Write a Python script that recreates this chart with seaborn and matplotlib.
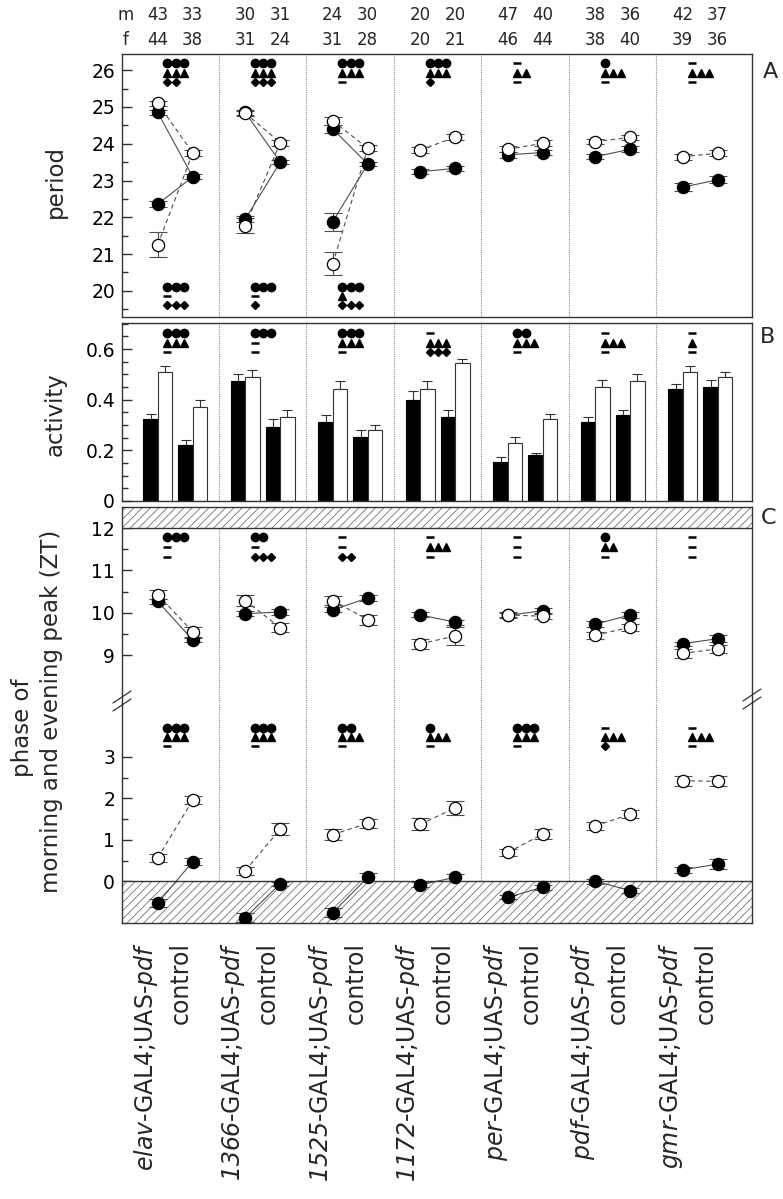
import numpy as np
import pandas as pd
import matplotlib
matplotlib.use("Agg")
import matplotlib.pyplot as plt
import matplotlib.transforms as mtransforms
from matplotlib.lines import Line2D
from matplotlib.ticker import MultipleLocator, FixedLocator, FuncFormatter
import seaborn as sns

sns.set_theme(style="ticks")
plt.rcParams.update({
    "font.family": ["DejaVu Sans"],
    "mathtext.fontset": "dejavusans",
    "hatch.color": "0.45",
    "hatch.linewidth": 0.6,
    "axes.edgecolor": "0.2",
    "axes.linewidth": 1.0,
    "ytick.color": "0.2",
    "ytick.labelcolor": "black",
})

# ---- data ----
# italic parts are plain text (italic font), the roman middle part is \text{}
driver_names = ["elav", "1366", "1525", "1172", "per", "pdf", "gmr"]
trans_labels = [name + r"$\text{-GAL4;UAS-}$" + "pdf" for name in driver_names]
ctrl_label = "control"

n_m = [43, 33, 30, 31, 24, 30, 20, 20, 47, 40, 38, 36, 42, 37]
n_f = [44, 38, 31, 24, 31, 28, 20, 21, 46, 44, 38, 40, 39, 36]

# period (A); black = m, white = f
per_m_trans = [24.85, 24.85, 24.40, 23.24, 23.70, 23.65, 22.82]
per_m_trans_err = [0.07, 0.06, 0.10, 0.06, 0.08, 0.07, 0.10]
per_f_trans = [25.10, 24.83, 24.62, 23.83, 23.85, 24.06, 23.65]
per_f_trans_err = [0.07, 0.07, 0.10, 0.07, 0.08, 0.07, 0.08]
per_m_short = [22.36, 21.95, 21.88]
per_m_short_err = [0.08, 0.08, 0.24]
per_f_short = [21.25, 21.77, 20.74]
per_f_short_err = [0.34, 0.20, 0.31]
per_m_ctrl = [23.10, 23.50, 23.45, 23.33, 23.76, 23.85, 23.02]
per_m_ctrl_err = [0.07, 0.06, 0.05, 0.07, 0.07, 0.08, 0.10]
per_f_ctrl = [23.75, 24.03, 23.88, 24.18, 24.01, 24.17, 23.74]
per_f_ctrl_err = [0.08, 0.08, 0.08, 0.08, 0.08, 0.08, 0.08]

# activity (B)
act_m_trans = [0.322, 0.472, 0.311, 0.400, 0.154, 0.312, 0.443]
act_m_trans_err = [0.020, 0.029, 0.030, 0.033, 0.020, 0.018, 0.018]
act_f_trans = [0.511, 0.491, 0.442, 0.442, 0.230, 0.452, 0.510]
act_f_trans_err = [0.022, 0.026, 0.030, 0.030, 0.021, 0.027, 0.023]
act_m_ctrl = [0.222, 0.293, 0.251, 0.332, 0.183, 0.341, 0.452]
act_m_ctrl_err = [0.018, 0.029, 0.031, 0.029, 0.008, 0.020, 0.027]
act_f_ctrl = [0.371, 0.331, 0.282, 0.544, 0.322, 0.472, 0.491]
act_f_ctrl_err = [0.029, 0.030, 0.020, 0.018, 0.020, 0.029, 0.020]

# evening peak phase (C, upper)
eve_m_trans = [10.27, 9.98, 10.07, 9.95, 9.94, 9.73, 9.27]
eve_m_trans_err = [0.05, 0.06, 0.06, 0.06, 0.06, 0.07, 0.05]
eve_f_trans = [10.43, 10.29, 10.29, 9.27, 9.95, 9.47, 9.04]
eve_f_trans_err = [0.10, 0.12, 0.10, 0.12, 0.06, 0.08, 0.10]
eve_m_ctrl = [9.36, 10.02, 10.35, 9.78, 10.05, 9.95, 9.39]
eve_m_ctrl_err = [0.05, 0.06, 0.07, 0.06, 0.06, 0.07, 0.08]
eve_f_ctrl = [9.55, 9.65, 9.84, 9.45, 9.92, 9.66, 9.15]
eve_f_ctrl_err = [0.12, 0.11, 0.12, 0.22, 0.06, 0.08, 0.10]

# morning peak phase (C, lower)
mor_m_trans = [-0.52, -0.87, -0.75, -0.08, -0.38, 0.01, 0.28]
mor_m_trans_err = [0.10, 0.10, 0.10, 0.06, 0.05, 0.06, 0.08]
mor_f_trans = [0.57, 0.26, 1.13, 1.38, 0.70, 1.34, 2.43]
mor_f_trans_err = [0.10, 0.10, 0.14, 0.15, 0.08, 0.10, 0.12]
mor_m_ctrl = [0.48, -0.06, 0.10, 0.10, -0.14, -0.22, 0.42]
mor_m_ctrl_err = [0.09, 0.05, 0.10, 0.08, 0.06, 0.06, 0.12]
mor_f_ctrl = [1.96, 1.26, 1.40, 1.77, 1.14, 1.62, 2.41]
mor_f_ctrl_err = [0.10, 0.15, 0.10, 0.17, 0.12, 0.10, 0.12]

# significance symbols: o circle, ^ triangle, D diamond, - not significant
sig_A_top = [["ooo", "^^^", "DD"], ["ooo", "^^^", "DDD"], ["ooo", "^^^", "-"],
             ["ooo", "^^^", "D"], ["-", "^^", "-"], ["o", "^^^", "-"], ["-", "^^^", "-"]]
sig_A_bottom = [["ooo", "-", "DDD"], ["ooo", "-", "D"], ["ooo", "^", "DDD"]]
sig_B = [["ooo", "^^^", "-"], ["ooo", "-", "-"], ["ooo", "^^^", "-"], ["-", "^^^", "DDD"],
         ["oo", "^^^", "-"], ["-", "^^^", "-"], ["-", "^", "-"]]
sig_C_eve = [["ooo", "-", "-"], ["oo", "-", "DDD"], ["-", "-", "DD"], ["-", "^^^", "-"],
             ["-", "-", "-"], ["o", "^^", "-"], ["-", "-", "-"]]
sig_C_mor = [["ooo", "^^^", "-"], ["ooo", "^^^", "-"], ["oo", "^^^", "-"], ["o", "^^^", "-"],
             ["ooo", "^^^", "-"], ["-", "^^^", "D"], ["-", "^^^", "-"]]

# ---- layout ----
W, H = 783, 1199
x_trans = np.arange(7) * 2 + 0.6
x_ctrl = np.arange(7) * 2 + 1.4
XLIM = (-0.217, 14.183)

fig = plt.figure(figsize=(W / 100, H / 100), dpi=100)


def box(left, top, right, bottom):
    return [left / W, 1 - bottom / H, (right - left) / W, (bottom - top) / H]


axA = fig.add_axes(box(122, 54, 752, 317))
axB = fig.add_axes(box(122, 323, 752, 501))
axE = fig.add_axes(box(122, 507, 752, 703))
axM = fig.add_axes(box(122, 703, 752, 923))

for ax in (axA, axB, axE, axM):
    ax.set_xlim(*XLIM)
    for s in range(1, 7):
        ax.axvline(2 * s, color="0.55", lw=0.8, ls=(0, (1, 1)), zorder=0.5)
    ax.tick_params(axis="x", bottom=False, labelbottom=False)
    ax.tick_params(axis="y", which="both", direction="in", right=False,
                   labelsize=13.5, pad=5, width=1.0)
    ax.tick_params(axis="y", which="major", length=7)
    ax.tick_params(axis="y", which="minor", length=4.5)


def connect(ax, segs):
    rows = []
    for sid, sex, g, y0, y1 in segs:
        rows.append(dict(series=sid, sex=sex, x=x_trans[g], y=y0))
        rows.append(dict(series=sid, sex=sex, x=x_ctrl[g], y=y1))
    df = pd.DataFrame(rows)
    sns.lineplot(data=df, x="x", y="y", units="series", estimator=None, sort=False,
                 style="sex", style_order=["m", "f"], dashes={"m": "", "f": (4, 3)},
                 color="0.3", linewidth=0.8, legend=False, ax=ax, zorder=1)
    ax.set(xlabel="", ylabel="")


def points(ax, x, y, err, face, z):
    ax.errorbar(x, y, yerr=err, fmt="none", ecolor="0.3", elinewidth=0.8,
                capsize=6.8, capthick=0.8, zorder=2)
    ax.plot(x, y, ls="none", marker="o", ms=8.8, mfc=face, mec="black", mew=0.9, zorder=z)


sym_style = {"o": dict(marker="o", ms=6.0),
             "^": dict(marker="^", ms=6.2),
             "D": dict(marker="D", ms=4.4),
             "-": dict(marker="_", ms=5.5, mew=1.8)}


def draw_sig(ax, groups_rows, row_y):
    tr = ax.get_xaxis_transform()
    for g, rows in enumerate(groups_rows):
        for r, code in enumerate(rows):
            for c, ch in enumerate(code):
                ax.plot([2 * g + 0.82 + 0.19 * c], [row_y[r]], ls="none", color="black",
                        transform=tr, clip_on=False, zorder=5, **sym_style[ch])


# ---- A: period ----
segs = []
for g in range(7):
    segs.append((f"m{g}", "m", g, per_m_trans[g], per_m_ctrl[g]))
    segs.append((f"f{g}", "f", g, per_f_trans[g], per_f_ctrl[g]))
for g in range(3):
    segs.append((f"ms{g}", "m", g, per_m_short[g], per_m_ctrl[g]))
    segs.append((f"fs{g}", "f", g, per_f_short[g], per_f_ctrl[g]))
connect(axA, segs)
points(axA, np.r_[x_trans, x_trans[:3], x_ctrl], np.r_[per_m_trans, per_m_short, per_m_ctrl],
       np.r_[per_m_trans_err, per_m_short_err, per_m_ctrl_err], "black", 3)
points(axA, np.r_[x_trans, x_trans[:3], x_ctrl], np.r_[per_f_trans, per_f_short, per_f_ctrl],
       np.r_[per_f_trans_err, per_f_short_err, per_f_ctrl_err], "white", 4)
axA.set_xlim(*XLIM)
axA.set_ylim(19.29, 26.44)
axA.yaxis.set_major_locator(FixedLocator([20, 21, 22, 23, 24, 25, 26]))
axA.yaxis.set_minor_locator(MultipleLocator(0.5))
draw_sig(axA, sig_A_top, [0.966, 0.928, 0.894])
draw_sig(axA, sig_A_bottom, [0.114, 0.080, 0.046])

trA = axA.get_xaxis_transform()
xs_all = np.ravel(np.column_stack([x_trans, x_ctrl]))
for x, nm, nf in zip(xs_all, n_m, n_f):
    axA.text(x, 1.148, str(nm), transform=trA, ha="center", va="center", fontsize=12)
    axA.text(x, 1.053, str(nf), transform=trA, ha="center", va="center", fontsize=12)
axA.text(-0.126, 1.148, "m", transform=trA, ha="center", va="center", fontsize=12)
axA.text(-0.126, 1.053, "f", transform=trA, ha="center", va="center", fontsize=12)

# ---- B: activity ----
bw = 0.33
axB.bar(x_trans - bw / 2, act_m_trans, width=bw, color="black", edgecolor="black", lw=0.8, zorder=2)
axB.bar(x_trans + bw / 2, act_f_trans, width=bw, color="white", edgecolor="0.2", lw=0.8, zorder=2)
axB.bar(x_ctrl - bw / 2, act_m_ctrl, width=bw, color="black", edgecolor="black", lw=0.8, zorder=2)
axB.bar(x_ctrl + bw / 2, act_f_ctrl, width=bw, color="white", edgecolor="0.2", lw=0.8, zorder=2)
for xx, yy, ee in [(x_trans - bw / 2, act_m_trans, act_m_trans_err),
                   (x_trans + bw / 2, act_f_trans, act_f_trans_err),
                   (x_ctrl - bw / 2, act_m_ctrl, act_m_ctrl_err),
                   (x_ctrl + bw / 2, act_f_ctrl, act_f_ctrl_err)]:
    axB.errorbar(xx, yy, yerr=[np.zeros(len(ee)), ee], fmt="none", ecolor="0.2",
                 elinewidth=0.8, capsize=3.5, capthick=0.8, zorder=1.5)
axB.set_ylim(0, 0.703)
axB.yaxis.set_major_locator(FixedLocator([0, 0.2, 0.4, 0.6]))
axB.yaxis.set_minor_locator(MultipleLocator(0.05))
axB.yaxis.set_major_formatter(FuncFormatter(lambda v, p: f"{v:g}"))
draw_sig(axB, sig_B, [0.944, 0.888, 0.837])

# ---- C: phase (broken axis) ----
connect(axE, [(f"m{g}", "m", g, eve_m_trans[g], eve_m_ctrl[g]) for g in range(7)] +
        [(f"f{g}", "f", g, eve_f_trans[g], eve_f_ctrl[g]) for g in range(7)])
points(axE, np.r_[x_trans, x_ctrl], np.r_[eve_m_trans, eve_m_ctrl],
       np.r_[eve_m_trans_err, eve_m_ctrl_err], "black", 3)
points(axE, np.r_[x_trans, x_ctrl], np.r_[eve_f_trans, eve_f_ctrl],
       np.r_[eve_f_trans_err, eve_f_ctrl_err], "white", 4)
axE.axhspan(12, 12.5, facecolor="white", edgecolor="0.45", hatch="////", lw=0, zorder=0.6)
axE.axhline(12, color="0.2", lw=1.0, zorder=1)
axE.set_xlim(*XLIM)
axE.set_ylim(7.87, 12.5)
axE.yaxis.set_major_locator(FixedLocator([9, 10, 11, 12]))
axE.yaxis.set_minor_locator(FixedLocator([9.5, 10.5, 11.5]))
axE.spines["bottom"].set_visible(False)
draw_sig(axE, sig_C_eve, [0.847, 0.796, 0.745])

connect(axM, [(f"m{g}", "m", g, mor_m_trans[g], mor_m_ctrl[g]) for g in range(7)] +
        [(f"f{g}", "f", g, mor_f_trans[g], mor_f_ctrl[g]) for g in range(7)])
points(axM, np.r_[x_trans, x_ctrl], np.r_[mor_m_trans, mor_m_ctrl],
       np.r_[mor_m_trans_err, mor_m_ctrl_err], "black", 3)
points(axM, np.r_[x_trans, x_ctrl], np.r_[mor_f_trans, mor_f_ctrl],
       np.r_[mor_f_trans_err, mor_f_ctrl_err], "white", 4)
axM.axhspan(-1, 0, facecolor="white", edgecolor="0.45", hatch="////", lw=0, zorder=0.6)
axM.axhline(0, color="0.2", lw=1.0, zorder=1)
axM.set_xlim(*XLIM)
axM.set_ylim(-1.0, 4.3)
axM.yaxis.set_major_locator(FixedLocator([0, 1, 2, 3]))
axM.yaxis.set_minor_locator(FixedLocator([-0.5, 0.5, 1.5, 2.5]))
axM.spines["top"].set_visible(False)
draw_sig(axM, sig_C_mor, [0.886, 0.845, 0.805])

# break marks on the left and right spines
for cx, cy in [(122, 697), (122, 705), (752, 695), (752, 703)]:
    fig.add_artist(Line2D([(cx - 9) / W, (cx + 9) / W], [1 - (cy + 6) / H, 1 - (cy - 6) / H],
                          color="0.2", lw=0.9))

# x labels under the lower C axes
lab_tr = axM.get_xaxis_transform() + mtransforms.ScaledTranslation(-0.12, -0.19, fig.dpi_scale_trans)
for g in range(7):
    axM.text(x_trans[g], 0, trans_labels[g], transform=lab_tr, rotation=90,
             ha="center", va="top", fontsize=17, fontstyle="italic")
    axM.text(x_ctrl[g], 0, ctrl_label, transform=lab_tr, rotation=90,
             ha="center", va="top", fontsize=17)

# axis titles and panel letters
fig.text(55 / W, 1 - 182 / H, "period", rotation=90, ha="center", va="center", fontsize=16.5)
fig.text(55 / W, 1 - 414 / H, "activity", rotation=90, ha="center", va="center", fontsize=16.5)
fig.text(22 / W, 1 - 728 / H, "phase of", rotation=90, ha="center", va="center", fontsize=16.5)
fig.text(52 / W, 1 - 711 / H, "morning and evening peak (ZT)", rotation=90,
         ha="center", va="center", fontsize=16.5)
for letter, (lx, ly) in zip("ABC", [(770, 72), (767, 337), (768, 518)]):
    fig.text(lx / W, 1 - ly / H, letter, ha="center", va="center", fontsize=16)

fig.savefig("out.png", dpi=100)
